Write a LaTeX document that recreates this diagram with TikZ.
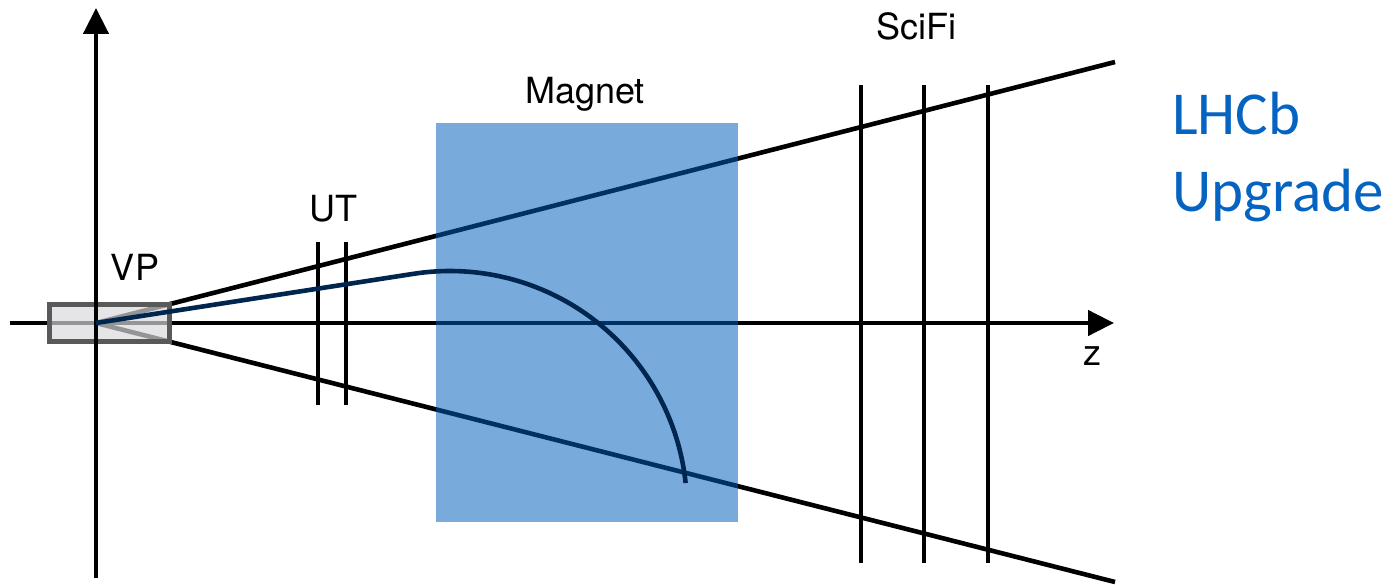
\documentclass[tikz,border=0pt]{standalone}
\usepackage{fontspec}
\setmainfont{TeX Gyre Heros}
\newfontfamily\calib{Carlito}
\usetikzlibrary{arrows.meta}
\definecolor{magblue}{RGB}{0,94,188}
\definecolor{tracknavy}{RGB}{0,38,80}
\definecolor{lhcbblue}{RGB}{5,99,193}
\definecolor{vpfill}{RGB}{217,217,221}
\definecolor{vpedge}{RGB}{89,89,89}
\begin{document}
\begin{tikzpicture}[x=1pt,y=-1pt,
  axis/.style={line width=4.6pt,-{Triangle[length=26pt,width=25pt]}},
  plane/.style={line width=4.6pt},
  cone/.style={line width=4.6pt},
  track/.style={line width=4.6pt,draw=tracknavy},
  magnetbox/.style={fill=magblue,fill opacity=0.53},
  vpbox/.style={draw=vpedge,line width=5pt,fill=vpfill,fill opacity=0.69},
  lbl/.style={font=\fontsize{36}{42}\selectfont,anchor=base,inner sep=0pt},
  lhcb/.style={font=\calib\fontsize{61}{77}\selectfont,text=lhcbblue,anchor=base west,align=left,inner sep=0pt}]
\useasboundingbox (0,0) rectangle (1396,585);
% key points
\coordinate (O) at (96,323);
\coordinate (zstart) at (10,323);
\coordinate (zend) at (1114,323);
\coordinate (ybot) at (96,578);
\coordinate (ytop) at (96,8);
\coordinate (cu) at (1115,62);
\coordinate (cl) at (1115,582);
\coordinate (T) at (413.7,273.8);
% horizontal axis
\draw[axis] (zstart) -- (zend);
% acceptance cone
\draw[cone] (O) -- (cu);
\draw[cone] (O) -- (cl);
% UT planes
\coordinate (ut1t) at (318,242); \coordinate (ut1b) at (318,405);
\coordinate (ut2t) at (346,242); \coordinate (ut2b) at (346,405);
\draw[plane] (ut1t) -- (ut1b);
\draw[plane] (ut2t) -- (ut2b);
% SciFi planes
\coordinate (sf1t) at (861,85); \coordinate (sf1b) at (861,563);
\coordinate (sf2t) at (924,85); \coordinate (sf2b) at (924,563);
\coordinate (sf3t) at (988,85); \coordinate (sf3b) at (988,563);
\draw[plane] (sf1t) -- (sf1b);
\draw[plane] (sf2t) -- (sf2b);
\draw[plane] (sf3t) -- (sf3b);
% VP box
\path[vpbox] (49.5,304.5) rectangle (169.5,341.5);
% vertical axis
\draw[axis] (ybot) -- (ytop);
% magnet
\path[magnetbox] (436,123) rectangle (738,522);
% track
\draw[track] (O) -- (T) arc[start angle=-98.8,end angle=-6.05,radius=237];
% labels
\node[lbl] (vp) at (135,280) {VP};
\node[lbl] (ut) at (333,222) {UT};
\node[lbl] (mag) at (585,104) {Magnet};
\node[lbl] (scifi) at (916,40) {SciFi};
\node[lbl] (z) at (1092,365) {z};
\node[lhcb] (title) at (1172,212) {LHCb\\Upgrade};
\end{tikzpicture}
\end{document}
